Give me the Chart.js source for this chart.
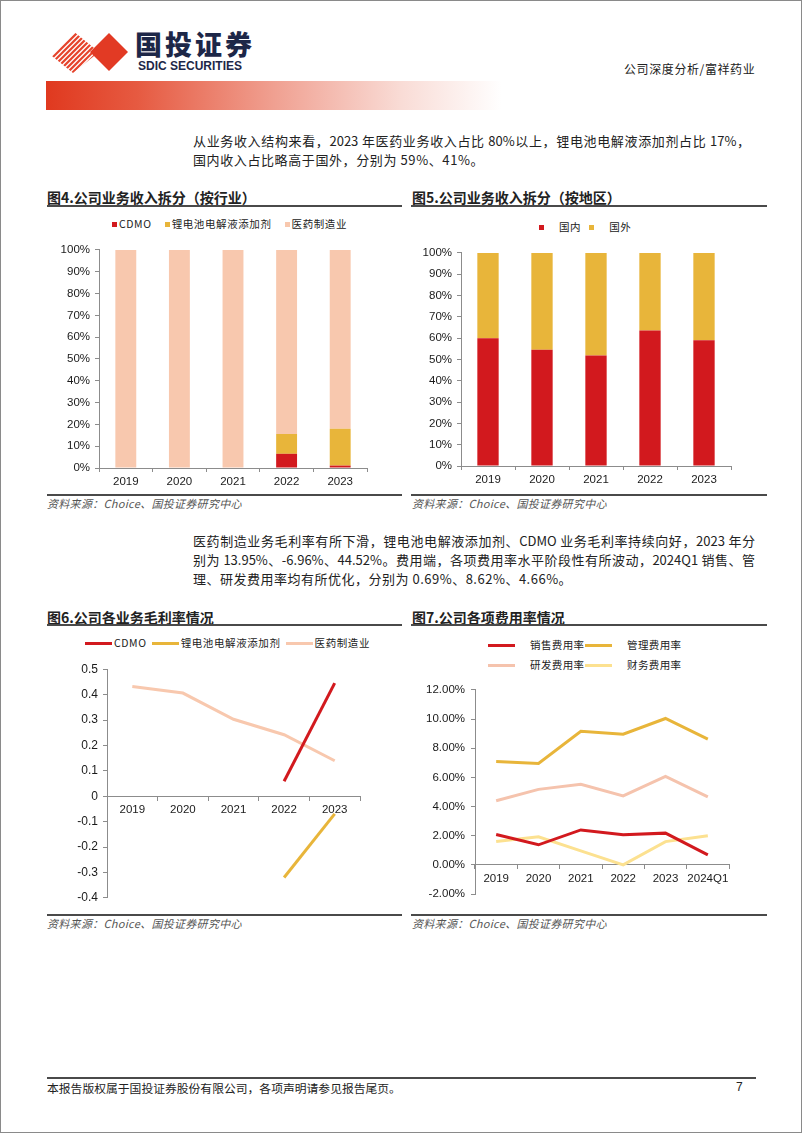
<!DOCTYPE html>
<html>
<head>
<meta charset="utf-8">
<script src="https://cdn.jsdelivr.net/npm/chart.js@4.4.1/dist/chart.umd.min.js"></script>
<style>
html,body{margin:0;padding:0;background:#fff;}
body{width:802px;height:1133px;position:relative;overflow:hidden;font-family:"Noto Sans CJK SC","Noto Sans",sans-serif;color:#222;}
.abs{position:absolute;}
.pageborder{left:0;top:0;width:802px;height:1133px;box-sizing:border-box;border:1px solid #8a8a8a;}
.para{font-size:13px;line-height:20px;white-space:nowrap;color:#222;}
.just{text-align:justify;text-align-last:justify;}
.title{font-size:14px;font-weight:700;line-height:18px;white-space:nowrap;color:#222;}
.rule{height:2px;background:#4a4a4a;}
.src{font-size:11px;font-style:italic;color:#555;line-height:14px;white-space:nowrap;letter-spacing:0.3px;}
.legend{display:flex;align-items:center;white-space:nowrap;font-size:10.5px;line-height:14px;color:#222;letter-spacing:0.6px;}
.li{display:flex;align-items:center;white-space:nowrap;}
.sw-box{display:inline-block;width:5px;height:5px;flex:none;}
.sw-line{display:inline-block;width:27px;height:3px;flex:none;}
.grid2{display:grid;grid-template-columns:97px 97px;row-gap:6px;font-size:10.5px;line-height:14px;letter-spacing:0.4px;color:#222;white-space:nowrap;}
.chartbox canvas{display:block;}
</style>
</head>
<body>
<script>
// ---------- DATA ----------
const years = ['2019', '2020', '2021', '2022', '2023'];
const feeYears = ['2019', '2020', '2021', '2022', '2023', '2024Q1'];

// 图4 按行业 (%)
const cdmoShare   = [0, 0, 0, 6.5, 1.1];
const liShare     = [0, 0, 0, 9.1, 16.9];
const pharmaShare = [100, 100, 100, 84.4, 82.0];

// 图5 按地区 (%)
const domesticShare = [59.9, 54.6, 51.8, 63.6, 59.0];
const overseasShare = [40.1, 45.4, 48.2, 36.4, 41.0];

// 图6 毛利率
const cdmoMargin   = [null, null, null, 0.059, 0.4452];
const liMargin     = [null, null, null, -0.320, -0.0696];
const pharmaMargin = [0.432, 0.406, 0.303, 0.242, 0.1395];

// 图7 费用率 (%)
const salesRate = [2.09, 1.38, 2.40, 2.07, 2.18, 0.69];
const adminRate = [7.09, 6.96, 9.16, 8.96, 10.04, 8.62];
const rdRate    = [4.40, 5.18, 5.53, 4.73, 6.07, 4.66];
const finRate   = [1.60, 1.93, 0.96, 0.00, 1.60, 2.00];
</script>

<div class="abs pageborder"></div>

<!-- header -->
<svg class="abs" style="left:0;top:0" width="140" height="90">
  <defs>
    <clipPath id="stripeClip"><polygon points="73,31 99,52 73,73 47,52"/></clipPath>
  </defs>
  <g clip-path="url(#stripeClip)" stroke="#e5432b" stroke-width="2.2">
    <line x1="20" y1="90" x2="80" y2="30"/>
    <line x1="25" y1="90" x2="85" y2="30"/>
    <line x1="30" y1="90" x2="90" y2="30"/>
    <line x1="35" y1="90" x2="95" y2="30"/>
    <line x1="40" y1="90" x2="100" y2="30"/>
    <line x1="45" y1="90" x2="105" y2="30"/>
    <line x1="50" y1="90" x2="110" y2="30"/>
    <line x1="55" y1="90" x2="115" y2="30"/>
    <line x1="60" y1="90" x2="120" y2="30"/>
    <line x1="65" y1="90" x2="125" y2="30"/>
    <line x1="70" y1="90" x2="130" y2="30"/>
    <line x1="75" y1="90" x2="135" y2="30"/>
    <line x1="80" y1="90" x2="140" y2="30"/>
  </g>
  <polygon points="109,33 128,52 109,71 90,52" fill="#e23a24"/>
</svg>
<div class="abs" style="left:135px;top:28px;font-size:27px;font-weight:900;color:#1d2748;letter-spacing:3px;line-height:32px;white-space:nowrap;">国投证券</div>
<div class="abs" style="left:138px;top:60px;font-family:'Liberation Sans',Arial,sans-serif;font-size:12px;font-weight:700;color:#1d2748;line-height:12px;white-space:nowrap;">SDIC SECURITIES</div>
<div class="abs" style="left:624px;top:61px;font-size:12px;line-height:16px;color:#222;letter-spacing:0.6px;white-space:nowrap;">公司深度分析/富祥药业</div>
<div class="abs" style="left:46px;top:81px;width:456px;height:29px;background:linear-gradient(to right,#e0391f 0%,#e65a41 20%,#f0a091 50%,#f9dcd6 78%,#ffffff 100%);"></div>

<!-- paragraph 1 -->
<div class="abs para just" style="left:193px;top:131px;width:557px;">从业务收入结构来看，2023 年医药业务收入占比 80%以上，锂电池电解液添加剂占比 17%，</div>
<div class="abs para" style="left:193px;top:150px;letter-spacing:0.6px;">国内收入占比略高于国外，分别为 59%、41%。</div>

<!-- titles row 1 -->
<div class="abs title" style="left:47px;top:188px;">图4.公司业务收入拆分（按行业）</div>
<div class="abs title" style="left:412px;top:188px;">图5.公司业务收入拆分（按地区）</div>
<div class="abs rule" style="left:47px;top:205px;width:355px;"></div>
<div class="abs rule" style="left:411px;top:205px;width:356px;"></div>

<div id="lg4" class="abs legend" style="left:112px;top:217px;"></div>
<div id="lg5" class="abs legend" style="left:539px;top:220px;"></div>

<div class="abs chartbox" style="left:40px;top:238px;width:337px;height:254px;"><canvas id="c4" width="337" height="254"></canvas></div>
<div class="abs chartbox" style="left:405px;top:241px;width:336px;height:249px;"><canvas id="c5" width="336" height="249"></canvas></div>

<div class="abs rule" style="left:47px;top:494px;width:355px;"></div>
<div class="abs rule" style="left:411px;top:494px;width:356px;"></div>
<div class="abs src" style="left:47px;top:496px;">资料来源：Choice、国投证券研究中心</div>
<div class="abs src" style="left:412px;top:496px;">资料来源：Choice、国投证券研究中心</div>

<!-- paragraph 2 -->
<div class="abs para just" style="left:193px;top:531px;width:562px;">医药制造业务毛利率有所下滑，锂电池电解液添加剂、CDMO 业务毛利率持续向好，2023 年分</div>
<div class="abs para just" style="left:193px;top:550px;width:562px;">别为 13.95%、-6.96%、44.52%。费用端，各项费用率水平阶段性有所波动，2024Q1 销售、管</div>
<div class="abs para" style="left:193px;top:569px;letter-spacing:0.5px;">理、研发费用率均有所优化，分别为 0.69%、8.62%、4.66%。</div>

<!-- titles row 2 -->
<div class="abs title" style="left:47px;top:608px;">图6.公司各业务毛利率情况</div>
<div class="abs title" style="left:412px;top:608px;">图7.公司各项费用率情况</div>
<div class="abs rule" style="left:47px;top:624px;width:355px;"></div>
<div class="abs rule" style="left:411px;top:624px;width:356px;"></div>

<div id="lg6" class="abs legend" style="left:85px;top:636px;"></div>
<div id="lg7" class="abs grid2" style="left:488px;top:638px;"></div>

<div class="abs chartbox" style="left:40px;top:657px;width:330px;height:253px;"><canvas id="c6" width="330" height="253"></canvas></div>
<div class="abs chartbox" style="left:405px;top:677px;width:334px;height:230px;"><canvas id="c7" width="334" height="230"></canvas></div>

<div class="abs rule" style="left:47px;top:914px;width:355px;"></div>
<div class="abs rule" style="left:411px;top:914px;width:356px;"></div>
<div class="abs src" style="left:47px;top:916px;">资料来源：Choice、国投证券研究中心</div>
<div class="abs src" style="left:412px;top:916px;">资料来源：Choice、国投证券研究中心</div>

<!-- footer -->
<div class="abs rule" style="left:47px;top:1077px;width:709px;"></div>
<div class="abs" style="left:47px;top:1080px;font-size:11.8px;line-height:15px;color:#222;white-space:nowrap;">本报告版权属于国投证券股份有限公司，各项声明请参见报告尾页。</div>
<div class="abs" style="left:736px;top:1080px;font-size:12px;line-height:15px;color:#222;font-family:'Liberation Sans',Arial,sans-serif;">7</div>

<script>
const FONT = "'Liberation Sans', Arial, sans-serif";
const AXIS = '#8c8c8c';
const TICKC = '#1a1a1a';
const RED = '#d2191e', GOLD = '#e8b53a', PINK = '#f8c8ae', PINK2 = '#f5c3ad', LYEL = '#fce190';

function yAxis(width, extra) {
  return Object.assign({
    border: {display: true, color: AXIS, width: 1},
    grid: {drawOnChartArea: false, drawTicks: true, tickLength: 4, color: AXIS},
    afterFit: s => { s.width = width; }
  }, extra);
}
function xAxis(extra) {
  return Object.assign({
    type: 'category',
    offset: true,
    border: {display: true, color: AXIS, width: 1},
    grid: {drawOnChartArea: false, drawTicks: true, tickLength: 4, color: AXIS, offset: true},
    ticks: {font: {family: FONT, size: 11.5}, color: TICKC, padding: 3, maxRotation: 0, autoSkip: false}
  }, extra);
}
const basePlugins = {legend: {display: false}, tooltip: {enabled: false}, title: {display: false}};

function htmlLegend(chart, el, type, opt) {
  chart.data.datasets.forEach((ds, i) => {
    const item = document.createElement('span');
    item.className = 'li';
    const sw = document.createElement('span');
    sw.className = type === 'box' ? 'sw-box' : 'sw-line';
    sw.style.background = type === 'box' ? ds.backgroundColor : ds.borderColor;
    sw.style.marginRight = opt.swGap + 'px';
    const tx = document.createElement('span');
    tx.textContent = ds.label;
    item.appendChild(sw);
    item.appendChild(tx);
    if (opt.itemGap && i < chart.data.datasets.length - 1) item.style.marginRight = opt.itemGap + 'px';
    el.appendChild(item);
  });
}

// 图4
const c4 = new Chart(document.getElementById('c4'), {
  type: 'bar',
  data: {
    labels: years,
    datasets: [
      {label: 'CDMO', data: cdmoShare, backgroundColor: RED},
      {label: '锂电池电解液添加剂', data: liShare, backgroundColor: GOLD},
      {label: '医药制造业', data: pharmaShare, backgroundColor: PINK}
    ]
  },
  options: {
    responsive: false, animation: false,
    layout: {padding: {top: 10, right: 10, bottom: 0, left: 0}},
    datasets: {bar: {barPercentage: 0.39, categoryPercentage: 1, borderWidth: 0}},
    scales: {
      x: xAxis({stacked: true, afterFit: s => { s.height = 24; }}),
      y: yAxis(59, {stacked: true, min: 0, max: 100,
        ticks: {font: {family: FONT, size: 11.5}, color: TICKC, padding: 5, stepSize: 10, callback: v => v + '%'}})
    },
    plugins: basePlugins
  }
});
htmlLegend(c4, document.getElementById('lg4'), 'box', {swGap: 2, itemGap: 13});

// 图5
const c5 = new Chart(document.getElementById('c5'), {
  type: 'bar',
  data: {
    labels: years,
    datasets: [
      {label: '国内', data: domesticShare, backgroundColor: RED},
      {label: '国外', data: overseasShare, backgroundColor: GOLD}
    ]
  },
  options: {
    responsive: false, animation: false,
    layout: {padding: {top: 10, right: 10, bottom: 0, left: 0}},
    datasets: {bar: {barPercentage: 0.395, categoryPercentage: 1, borderWidth: 0}},
    scales: {
      x: xAxis({stacked: true, afterFit: s => { s.height = 24; }}),
      y: yAxis(56, {stacked: true, min: 0, max: 100,
        ticks: {font: {family: FONT, size: 11.5}, color: TICKC, padding: 5, stepSize: 10, callback: v => v + '%'}})
    },
    plugins: basePlugins
  }
});
htmlLegend(c5, document.getElementById('lg5'), 'box', {swGap: 15, itemGap: 8});

// 图6
const c6 = new Chart(document.getElementById('c6'), {
  type: 'line',
  data: {
    labels: years,
    datasets: [
      {label: 'CDMO', data: cdmoMargin, borderColor: RED, backgroundColor: RED},
      {label: '锂电池电解液添加剂', data: liMargin, borderColor: GOLD, backgroundColor: GOLD},
      {label: '医药制造业', data: pharmaMargin, borderColor: PINK, backgroundColor: PINK}
    ]
  },
  options: {
    responsive: false, animation: false,
    layout: {padding: {top: 10, right: 10, bottom: 10, left: 0}},
    datasets: {line: {borderWidth: 3, pointRadius: 0, tension: 0, spanGaps: false}},
    scales: {
      x: xAxis({position: {y: 0}}),
      y: yAxis(67, {min: -0.4, max: 0.5,
        ticks: {font: {family: FONT, size: 12}, color: TICKC, padding: 5, stepSize: 0.1,
          callback: v => Math.abs(v) < 1e-9 ? '0' : v.toFixed(1)}})
    },
    plugins: basePlugins
  }
});
htmlLegend(c6, document.getElementById('lg6'), 'line', {swGap: 2, itemGap: 5});

// 图7
const c7 = new Chart(document.getElementById('c7'), {
  type: 'line',
  data: {
    labels: feeYears,
    datasets: [
      {label: '销售费用率', data: salesRate, borderColor: RED, backgroundColor: RED},
      {label: '管理费用率', data: adminRate, borderColor: GOLD, backgroundColor: GOLD},
      {label: '研发费用率', data: rdRate, borderColor: PINK2, backgroundColor: PINK2},
      {label: '财务费用率', data: finRate, borderColor: LYEL, backgroundColor: LYEL}
    ]
  },
  options: {
    responsive: false, animation: false,
    layout: {padding: {top: 10, right: 10, bottom: 10, left: 0}},
    datasets: {line: {borderWidth: 3, pointRadius: 0, tension: 0}},
    scales: {
      x: xAxis({position: {y: 0}}),
      y: yAxis(70, {min: -2, max: 12,
        ticks: {font: {family: FONT, size: 11.5}, color: TICKC, padding: 6, stepSize: 2,
          callback: v => v.toFixed(2) + '%'}})
    },
    plugins: basePlugins
  }
});
htmlLegend(c7, document.getElementById('lg7'), 'line', {swGap: 15});
</script>
</body>
</html>
